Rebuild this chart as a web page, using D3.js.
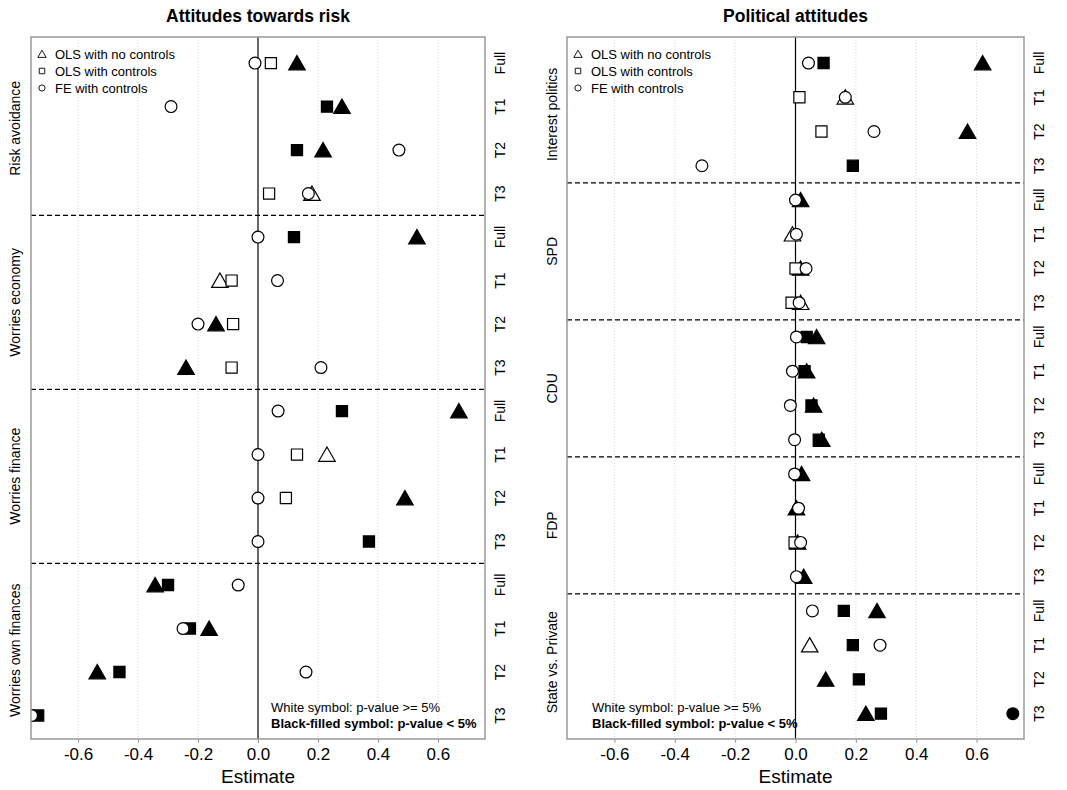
<!DOCTYPE html>
<html>
<head>
<meta charset="utf-8">
<script src="https://cdn.jsdelivr.net/npm/d3@7"></script>
<style>
  body { margin: 0; background: #fff; }
  text { font-family: "Liberation Sans", Arial, Helvetica, sans-serif; }
</style>
</head>
<body>
<div id="chart"></div>
<script>
// Categories and ticks
var riskGroups = ["Risk avoidance", "Worries economy", "Worries finance", "Worries own finances"];
var polGroups = ["Interest politics", "SPD", "CDU", "FDP", "State vs. Private"];
var samples = ["Full", "T1", "T2", "T3"];
var xTicks = [-0.6, -0.4, -0.2, 0.0, 0.2, 0.4, 0.6];
var legendLabels = ["OLS with no controls", "OLS with controls", "FE with controls"];

// Attitudes towards risk (rows: group x sample), null = outside plot
var riskOlsNo      = [0.13, 0.28, 0.217, 0.18,   0.53, -0.127, -0.14, -0.24,   0.67, 0.23, 0.49, null,   -0.343, -0.163, -0.536, null];
var riskOlsNoSig   = [1, 1, 1, 0,   1, 0, 1, 1,   1, 0, 1, 0,   1, 1, 1, 0];
var riskOlsCtrl    = [0.043, 0.23, 0.13, 0.037,   0.12, -0.088, -0.083, -0.088,   0.28, 0.13, 0.093, 0.37,   -0.30, -0.227, -0.462, -0.733];
var riskOlsCtrlSig = [0, 1, 1, 0,   1, 0, 0, 0,   1, 0, 0, 1,   1, 1, 1, 1];
var riskFe         = [-0.01, -0.29, 0.47, 0.168,   0.0, 0.065, -0.20, 0.21,   0.067, 0.0, 0.0, 0.0,   -0.066, -0.25, 0.16, -0.755];
var riskFeSig      = [0, 0, 0, 0,   0, 0, 0, 0,   0, 0, 0, 0,   0, 0, 0, 0];

// Political attitudes
var polOlsNo      = [0.62, 0.165, 0.57, null,   0.017, -0.01, 0.017, 0.017,   0.07, 0.037, 0.06, 0.087,   0.02, 0.003, 0.007, 0.027,   0.27, 0.047, 0.10, 0.233];
var polOlsNoSig   = [1, 0, 1, 0,   1, 0, 1, 0,   1, 1, 1, 1,   1, 1, 1, 1,   1, 0, 1, 1];
var polOlsCtrl    = [0.093, 0.013, 0.086, 0.19,   null, null, 0.0, -0.013,   0.037, 0.03, 0.053, 0.077,   null, null, -0.003, null,   0.16, 0.19, 0.21, 0.283];
var polOlsCtrlSig = [1, 0, 0, 1,   0, 0, 0, 0,   1, 1, 1, 1,   0, 0, 0, 0,   1, 1, 1, 1];
var polFe         = [0.043, 0.165, 0.26, -0.31,   0.0, 0.003, 0.035, 0.012,   0.003, -0.01, -0.017, -0.003,   -0.003, 0.01, 0.017, 0.003,   0.056, 0.28, null, 0.72];
var polFeSig      = [0, 0, 0, 0,   0, 0, 0, 0,   0, 0, 0, 0,   0, 0, 0, 0,   0, 0, 0, 1];

var w = 1067;
var h = 790;

var svg = d3.select("#chart")
    .append("svg")
    .attr("width", w)
    .attr("height", h);

// Symbol shapes per model
var shapes = [
    d3.symbol().type(d3.symbolTriangle).size(118),
    d3.symbol().type(d3.symbolSquare).size(124),
    d3.symbol().type(d3.symbolCircle).size(110)
];

function drawPanel(p) {
    var nRows = p.groups.length * samples.length;

    var xScale = d3.scaleLinear().domain([-0.757, 0.757]).range([p.left, p.right]);
    var yScale = d3.scaleLinear().domain(p.yDomain).range([p.top, p.bottom]);

    var g = svg.append("g");

    // clip
    g.append("clipPath").attr("id", p.id + "clip")
        .append("rect")
        .attr("x", p.left).attr("y", p.top)
        .attr("width", p.right - p.left).attr("height", p.bottom - p.top);

    // grid lines
    g.append("g")
        .selectAll("line")
        .data(xTicks.filter(function (d) { return d !== 0; }))
        .enter()
        .append("line")
        .attr("x1", function (d) { return xScale(d); })
        .attr("x2", function (d) { return xScale(d); })
        .attr("y1", p.top)
        .attr("y2", p.bottom)
        .style("stroke", "#d8d8d8")
        .style("stroke-width", 1)
        .style("stroke-dasharray", "1,2");

    // x axis (plain hyphen as minus sign)
    var axis = g.append("g")
        .attr("transform", "translate(0," + p.bottom + ")")
        .call(d3.axisBottom(xScale).tickValues(xTicks)
            .tickFormat(function (d) { return d.toFixed(1); })
            .tickSize(4).tickPadding(5));
    axis.select(".domain").remove();
    axis.selectAll(".tick line").style("stroke", "#999");
    axis.selectAll(".tick text")
        .style("font-size", "17px")
        .style("fill", "#000")
        .style("font-family", "Liberation Sans, Arial, sans-serif");

    g.append("text")
        .attr("x", xScale(0))
        .attr("y", 783)
        .attr("text-anchor", "middle")
        .style("font-size", "19px")
        .text("Estimate");

    // title
    g.append("text")
        .attr("x", xScale(0))
        .attr("y", 22)
        .attr("text-anchor", "middle")
        .style("font-size", "17.5px")
        .style("font-weight", "bold")
        .text(p.title);

    // zero line
    g.append("line")
        .attr("x1", xScale(0)).attr("x2", xScale(0))
        .attr("y1", p.top).attr("y2", p.bottom)
        .style("stroke", "#000")
        .style("stroke-width", 1.2);

    // group separators
    g.append("g")
        .selectAll("line")
        .data(d3.range(1, p.groups.length))
        .enter()
        .append("line")
        .attr("x1", p.left).attr("x2", p.right)
        .attr("y1", function (d) { return yScale(d * 4 - 0.5); })
        .attr("y2", function (d) { return yScale(d * 4 - 0.5); })
        .style("stroke", "#000")
        .style("stroke-width", 1.2)
        .style("stroke-dasharray", "5,3");

    // group labels on the left
    g.append("g")
        .selectAll("text")
        .data(p.groups)
        .enter()
        .append("text")
        .attr("transform", function (d, i) {
            return "translate(" + p.groupX + "," + yScale(i * 4 + 1.5) + ") rotate(-90)";
        })
        .attr("text-anchor", "middle")
        .attr("dy", "0.35em")
        .style("font-size", "14px")
        .text(function (d) { return d; });

    // sample labels on the right
    var rows = d3.range(nRows);
    g.append("g")
        .selectAll("text")
        .data(rows)
        .enter()
        .append("text")
        .attr("transform", function (d) {
            return "translate(" + (p.right + 15) + "," + yScale(d) + ") rotate(-90)";
        })
        .attr("text-anchor", "middle")
        .attr("dy", "0.35em")
        .style("font-size", "14px")
        .text(function (d) { return samples[d % 4]; });

    // points: triangles, squares, then circles on top
    var marks = g.append("g").attr("clip-path", "url(#" + p.id + "clip)");
    p.series.forEach(function (s, k) {
        var pts = s.values.map(function (v, i) { return { v: v, sig: s.sig[i], row: i }; })
            .filter(function (d) { return d.v !== null; });
        marks.append("g")
            .selectAll("path")
            .data(pts)
            .enter()
            .append("path")
            .attr("d", shapes[k])
            .attr("transform", function (d) {
                var dy = k === 0 ? 2 : 0;
                return "translate(" + xScale(d.v) + "," + (yScale(d.row) + dy) + ")";
            })
            .style("fill", function (d) { return d.sig ? "#000" : "#fff"; })
            .style("stroke", "#000")
            .style("stroke-width", 1.2);
    });

    // box
    g.append("rect")
        .attr("x", p.left).attr("y", p.top)
        .attr("width", p.right - p.left).attr("height", p.bottom - p.top)
        .style("fill", "none")
        .style("stroke", "#999")
        .style("stroke-width", 1.5);

    // legend
    var legendSymbols = [
        d3.symbol().type(d3.symbolTriangle).size(30),
        d3.symbol().type(d3.symbolSquare).size(30),
        d3.symbol().type(d3.symbolCircle).size(30)
    ];
    var leg = g.append("g");
    legendLabels.forEach(function (lab, i) {
        var ly = 54 + i * 17;
        leg.append("path")
            .attr("d", legendSymbols[i])
            .attr("transform", "translate(" + (p.left + 11) + "," + (ly + (i === 0 ? 1 : 0)) + ")")
            .style("fill", "#fff")
            .style("stroke", "#000")
            .style("stroke-width", 0.9);
        leg.append("text")
            .attr("x", p.left + 24)
            .attr("y", ly)
            .attr("dy", "0.35em")
            .style("font-size", "13px")
            .text(lab);
    });

    // note
    g.append("text")
        .attr("x", p.noteX)
        .attr("y", 712)
        .style("font-size", "13px")
        .text("White symbol: p-value >= 5%");
    g.append("text")
        .attr("x", p.noteX)
        .attr("y", 728)
        .style("font-size", "13px")
        .style("font-weight", "bold")
        .text("Black-filled symbol: p-value < 5%");
}

drawPanel({
    id: "risk",
    title: "Attitudes towards risk",
    groups: riskGroups,
    left: 31, right: 485, top: 37, bottom: 739,
    yDomain: [-0.6, 15.54],
    groupX: 15,
    noteX: 271,
    series: [
        { values: riskOlsNo, sig: riskOlsNoSig },
        { values: riskOlsCtrl, sig: riskOlsCtrlSig },
        { values: riskFe, sig: riskFeSig }
    ]
});

drawPanel({
    id: "pol",
    title: "Political attitudes",
    groups: polGroups,
    left: 567, right: 1024, top: 37, bottom: 739,
    yDomain: [-0.76, 19.74],
    groupX: 552,
    noteX: 592,
    series: [
        { values: polOlsNo, sig: polOlsNoSig },
        { values: polOlsCtrl, sig: polOlsCtrlSig },
        { values: polFe, sig: polFeSig }
    ]
});
</script>
</body>
</html>
